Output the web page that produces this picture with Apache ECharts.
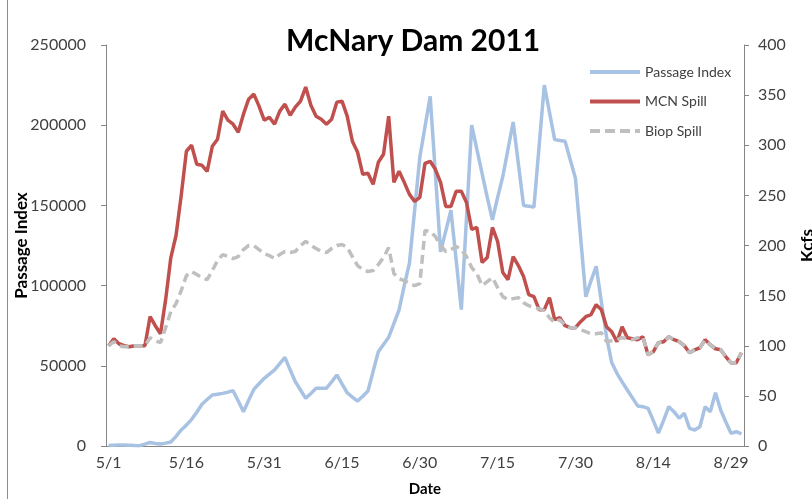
<!DOCTYPE html>
<html>
<head>
<meta charset="utf-8">
<script src="https://cdn.jsdelivr.net/npm/echarts@6/dist/echarts.min.js"></script>
<style>
html,body{margin:0;padding:0;background:#fff;}
#c{width:812px;height:499px;}
</style>
</head>
<body>
<div id="c"></div>
<script>
// Daily dates 5/1 .. 8/31 (2011)
const startMonth = 5, startDay = 1, dayCount = 123;
const monthLengths = {5: 31, 6: 30, 7: 31, 8: 31, 9: 30};
const dates = [];
(function () {
  let m = startMonth, d = startDay;
  for (let i = 0; i < dayCount; i++) {
    dates.push(m + '/' + d);
    d++;
    if (d > monthLengths[m]) { d = 1; m++; }
  }
})();

const passageIndex = [
  300, 500, 700, 600, 500, 300, 200, 1200, 2200, 1600,
  1200, 1800, 2500, 6000, 10000, 13000, 16600, 21000, 26000, 29000,
  31800, 32300, 32800, 33600, 34500, 28000, 21400, 28500, 35300, 38800,
  42200, 44800, 47400, 51300, 55300, 47500, 40100, 34900, 29700, 32800,
  36000, 36000, 36000, 40000, 44300, 38700, 33200, 30500, 28000, 31000,
  34300, 46500, 58800, 63300, 67800, 76300, 84800, 100000, 114000, 147000,
  180000, 199000, 218000, 170000, 121000, 134000, 147000, 116000, 85000, 142000,
  200000, 185000, 170000, 155000, 141000, 155000, 168000, 185000, 202000, 176000,
  150000, 149500, 149000, 187000, 225000, 208000, 191000, 190500, 190000, 178500,
  167000, 130000, 93000, 103000, 112000, 90000, 68000, 52000, 45300, 40000,
  34900, 30000, 25000, 24500, 23500, 16000, 8000, 16000, 24500, 21400,
  17300, 20400, 11000, 10000, 12000, 24500, 21400, 33200, 22400, 15000,
  7900, 8900, 7500
];

const mcnSpill = [
  100, 107, 102, 100, 99, 100, 100, 100, 129, 120,
  112, 146, 188, 210, 250, 294, 300, 281, 280, 274,
  299, 306, 334, 325, 321, 313, 331, 346, 351, 339,
  325, 328, 321, 334, 341, 330, 338, 344, 358, 340,
  329, 326, 321, 326, 343, 344, 329, 304, 293, 271,
  272, 261, 283, 291, 329, 263, 274, 263, 251, 244,
  248, 282, 284, 276, 263, 239, 239, 254, 254, 243,
  216, 218, 183, 188, 218, 204, 173, 166, 189, 180,
  169, 151, 149, 136, 136, 148, 126, 128, 120, 118,
  118, 124, 129, 131, 141, 136, 119, 114, 104, 119,
  108, 107, 106, 109, 91, 94, 103, 104, 109, 106,
  104, 100, 93, 96, 98, 106, 101, 97, 96, 89,
  83, 83, 93
];

const biopSpill = [
  100, 104, 100, 99, 99, 100, 100, 100, 108, 105,
  103, 118, 134, 142, 155, 170, 174, 171, 168, 166,
  175, 185, 191, 189, 187, 189, 196, 200, 200, 196,
  192, 190, 187, 191, 194, 193, 194, 200, 204, 200,
  197, 194, 193, 197, 200, 201, 198, 189, 180, 176,
  174, 175, 181, 188, 198, 172, 167, 165, 162, 160,
  162, 215, 214, 209, 200, 194, 196, 199, 196, 189,
  178, 172, 160, 164, 168, 158, 149, 146, 147, 148,
  143, 140, 138, 137, 135, 128, 123, 126, 120, 118,
  118, 116, 114, 112, 112, 113, 104, 105, 106, 108,
  107, 106, 108, 109, 91, 94, 103, 104, 109, 106,
  104, 100, 93, 96, 98, 106, 101, 97, 96, 89,
  83, 83, 93
];

const leftTicks = { min: 0, max: 250000, interval: 50000 };
const rightTicks = { min: 0, max: 400, interval: 50 };

const FONT = 'Lato';
const axisColor = '#868686';
const textColor = '#404040';
const blue = '#A7C2E2', red = '#C0504D', gray = '#BFBFBF';

const chart = echarts.init(document.getElementById('c'), null, { renderer: 'canvas' });
chart.setOption({
  animation: false,
  backgroundColor: '#ffffff',
  title: {
    text: 'McNary Dam 2011',
    left: 281, top: 21,
    textStyle: { fontFamily: FONT, fontWeight: 'bold', fontSize: 30, color: '#000' }
  },
  legend: {
    orient: 'vertical',
    left: 585, top: 60,
    itemWidth: 50, itemHeight: 4, itemGap: 15.5,
    textStyle: { fontFamily: FONT, fontSize: 14, color: textColor },
    data: [
      { name: 'Passage Index', icon: 'rect', itemStyle: { color: blue } },
      { name: 'MCN Spill', icon: 'rect', itemStyle: { color: red } },
      { name: 'Biop Spill', icon: 'path://M0,0H10V4H0Z M15,0H25V4H15Z M30,0H40V4H30Z M45,0H50V4H45Z', itemStyle: { color: gray } }
    ]
  },
  graphic: [{
    type: 'rect', shape: { x: 7.5, y: -10, width: 900, height: 600 },
    style: { fill: 'none', stroke: '#8c8c8c', lineWidth: 1 }, silent: true
  }],
  grid: { left: 106, right: 68, top: 45, bottom: 53, containLabel: false, outerBoundsMode: 'none' },
  xAxis: {
    type: 'category',
    data: dates,
    boundaryGap: true,
    name: 'Date', nameLocation: 'middle', nameGap: 36, nameMoveOverlap: false,
    nameTextStyle: { fontFamily: FONT, fontWeight: 'bold', fontSize: 15, color: '#000' },
    axisLine: { lineStyle: { color: axisColor, width: 1 } },
    axisTick: { interval: 14, length: 5, lineStyle: { color: axisColor } },
    axisLabel: { interval: 14, fontFamily: FONT, fontSize: 16, color: textColor, margin: 9 },
    splitLine: { show: false }
  },
  yAxis: [{
    type: 'value', position: 'left',
    min: leftTicks.min, max: leftTicks.max, interval: leftTicks.interval,
    name: 'Passage Index', nameLocation: 'middle', nameGap: 76, nameRotate: 90, nameMoveOverlap: false,
    nameTextStyle: { fontFamily: FONT, fontWeight: 'bold', fontSize: 17, color: '#000' },
    axisLine: { show: true, lineStyle: { color: axisColor } },
    axisTick: { show: true, length: 5, lineStyle: { color: axisColor } },
    axisLabel: { fontFamily: FONT, fontSize: 16, color: textColor, margin: 20, formatter: v => String(v) },
    splitLine: { show: false }
  }, {
    type: 'value', position: 'right',
    min: rightTicks.min, max: rightTicks.max, interval: rightTicks.interval,
    name: 'Kcfs', nameLocation: 'middle', nameGap: 55, nameRotate: 90, nameMoveOverlap: false,
    nameTextStyle: { fontFamily: FONT, fontWeight: 'bold', fontSize: 17, color: '#000' },
    axisLine: { show: true, lineStyle: { color: axisColor } },
    axisTick: { show: true, length: 5, lineStyle: { color: axisColor } },
    axisLabel: { fontFamily: FONT, fontSize: 16, color: textColor, margin: 14 },
    splitLine: { show: false }
  }],
  series: [{
    name: 'Passage Index', type: 'line', yAxisIndex: 0,
    data: passageIndex, symbol: 'none', smooth: false,
    lineStyle: { color: blue, width: 3.5 }, itemStyle: { color: blue },
    z: 2
  }, {
    name: 'MCN Spill', type: 'line', yAxisIndex: 1,
    data: mcnSpill, symbol: 'none',
    lineStyle: { color: red, width: 3.5 }, itemStyle: { color: red },
    z: 3
  }, {
    name: 'Biop Spill', type: 'line', yAxisIndex: 1,
    data: biopSpill, symbol: 'none',
    lineStyle: { color: gray, width: 3.5, type: [9, 5] }, itemStyle: { color: gray },
    z: 4
  }]
});
</script>
</body>
</html>
